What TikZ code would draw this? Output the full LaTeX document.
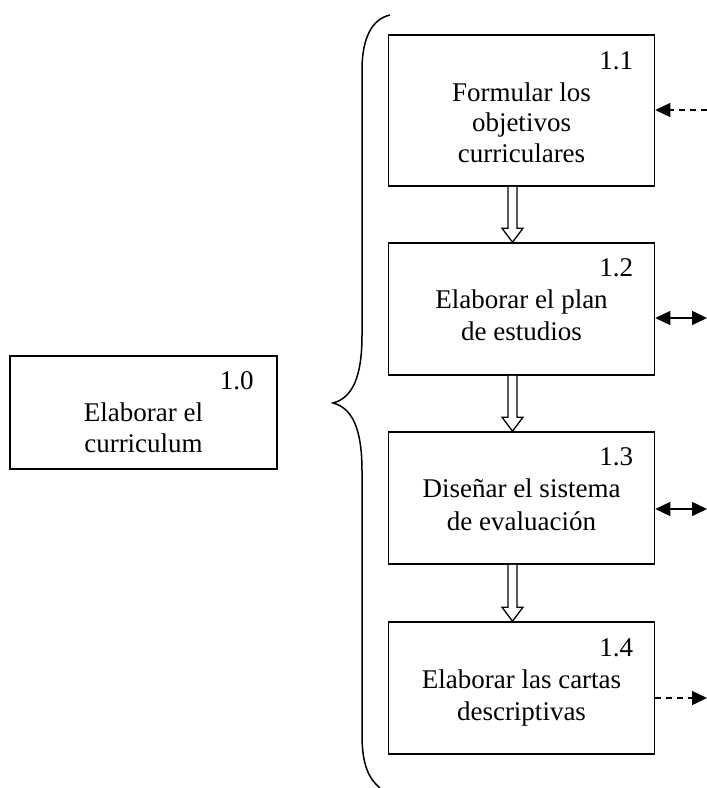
\documentclass[tikz,border=0pt]{standalone}
\usepackage{fontspec}
\setmainfont{Liberation Serif}
\usetikzlibrary{arrows.meta,calc}

\tikzset{
  taskbox/.style={draw, line width=1.6pt, inner sep=0pt, minimum width=266pt, minimum height=132pt},
  tasktext/.style={align=center, inner sep=0pt, font=\fontsize{27}{32}\selectfont},
  tasknum/.style={anchor=base east, inner sep=0pt, font=\fontsize{27}{32}\selectfont},
  flowarrow/.style={draw, fill=white, line width=1.3pt, line join=miter},
  link/.style={line width=1.5pt},
  dashlink/.style={link, dash pattern=on 6pt off 5pt},
  tip/.tip={Triangle[length=15pt, width=14pt]},
  bracket/.style={line width=1.5pt}
}

% hollow block arrow from the bottom of one box to the top of the next
\newcommand\blockarrow[2]{%
  \path ($(#1.south)+(-9,0)$) coordinate (#1-from)
        ($(#2.north)+(-9,0)$) coordinate (#2-to);
  \draw[flowarrow] ($(#1-from)+(-4.5,0)$) -- ($(#2-to)+(-4.5,-14)$)
      -- ($(#2-to)+(-10.5,-14)$) -- (#2-to) -- ($(#2-to)+(10.5,-14)$)
      -- ($(#2-to)+(4.5,-14)$) -- ($(#1-from)+(4.5,0)$);
}

\begin{document}
\begin{tikzpicture}[x=1pt, y=-1pt]
\useasboundingbox (0,0) rectangle (707,788);

% main task
\node[taskbox, minimum width=267pt, minimum height=113pt] (b10) at (143.5,412.5) {};
\node[tasknum] (n10) at ($(b10.north east)+(-24,34)$) {1.0};
\node[tasktext, font=\fontsize{27}{31}\selectfont] (t10) at (143.5,427.4) {Elaborar el\\curriculum};

% sub-tasks
\node[taskbox, minimum height=151pt] (b11) at (521.5,110.5) {};
\node[tasknum] (n11) at ($(b11.north east)+(-22,35)$) {1.1};
\node[tasktext, font=\fontsize{27}{30.5}\selectfont] (t11) at (521.5,122.4) {Formular los\\objetivos\\curriculares};

\node[taskbox] (b12) at (521.5,309) {};
\node[tasknum] (n12) at ($(b12.north east)+(-22,34)$) {1.2};
\node[tasktext] (t12) at (521.5,314.9) {Elaborar el plan\\de estudios};

\node[taskbox] (b13) at (521.5,498) {};
\node[tasknum] (n13) at ($(b13.north east)+(-22,34)$) {1.3};
\node[tasktext, font=\fontsize{27}{33}\selectfont] (t13) at (521.5,504.4) {Diseñar el sistema\\de evaluación};

\node[taskbox] (b14) at (521.5,688) {};
\node[tasknum] (n14) at ($(b14.north east)+(-22,35)$) {1.4};
\node[tasktext] (t14) at (521.5,697.8) {Elaborar las cartas\\descriptivas};

% sequence between sub-tasks
\blockarrow{b11}{b12}
\blockarrow{b12}{b13}
\blockarrow{b13}{b14}

% links leaving the right edge
\coordinate (e11) at (707,110);
\coordinate (e12) at (707,318);
\coordinate (e13) at (707,509);
\coordinate (e14) at (707,698);
\draw[dashlink, -tip] (e11) -- (b11.east |- e11);
\draw[link, tip-tip] (b12.east |- e12) -- (e12);
\draw[link, tip-tip] (b13.east |- e13) -- (e13);
\draw[dashlink, -tip] (b14.east |- e14) -- (e14);

% curly brace grouping the sub-tasks
\draw[bracket] (390,15) .. controls (372,19) and (362,38) .. (362,70)
  -- (362,335) .. controls (362,378) and (352,398) .. (333,403)
  .. controls (352,408) and (362,428) .. (362,471)
  -- (362,735) .. controls (362,765) and (369,779) .. (380,788);
\end{tikzpicture}
\end{document}
